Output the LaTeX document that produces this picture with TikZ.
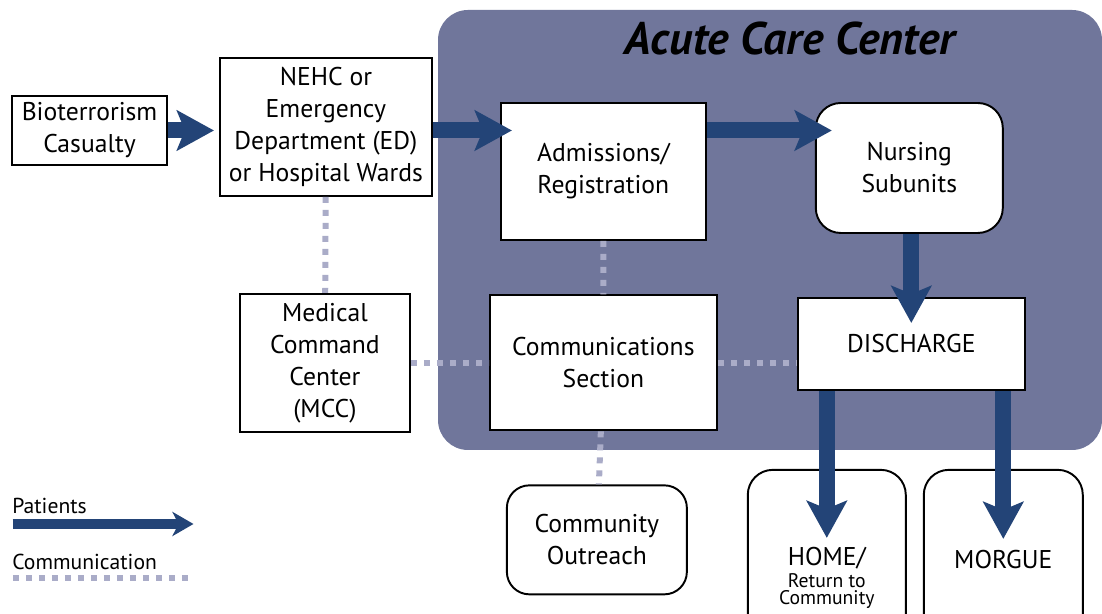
\documentclass[tikz,border=0pt]{standalone}
\usepackage{fontspec}
\setmainfont{PT Sans}
\usepackage{xcolor}
\usepackage{tikz}
\usetikzlibrary{arrows.meta}
\usetikzlibrary{positioning}
\usetikzlibrary{calc}
\definecolor{accbg}{HTML}{70769B}
\definecolor{flowblue}{HTML}{234477}
\definecolor{commgray}{HTML}{AAACC8}
\tikzstyle{unit} = [rectangle,fill=white,draw=black,line width=1.1pt,align=center,
inner sep=2pt, font=\fontsize{14.6}{18.2}\selectfont]
\tikzstyle{roundunit} = [unit, rounded corners=0.5cm]
\tikzstyle{patient} = [draw=flowblue, line width=0.32cm,
-{Stealth[length=0.74cm, width=0.8cm, inset=0.16cm]}]
\tikzstyle{patientkey} = [draw=flowblue, line width=0.2cm,
-{Stealth[length=0.42cm, width=0.48cm, inset=0.12cm]}]
\tikzstyle{commlink} = [draw=commgray, line width=0.12cm, dash pattern=on 0.12cm off 0.14cm]
\tikzstyle{keytext} = [inner sep=0pt, font=\fontsize{12.3}{14}\selectfont]
\newcommand{\cedge}[2]{ %
  % Link all nodes #1 to all nodes #2.
  \foreach \src in {#1} { %
    \foreach \dst in {#2} { %
      \path (\src) edge [commlink] (\dst) ;%
    } ;
  } ;
}

\begin{document}
\begin{tikzpicture}
  \useasboundingbox (0,0) rectangle (22.04,12.28);
  % acute care center
  \fill[accbg, rounded corners=0.6cm] (8.76,3.28) rectangle (22.04,12.08);
  \node[font=\fontsize{26}{26}\selectfont\bfseries\itshape] (acc) at (15.8,11.5) {Acute Care Center};
  % entry
  \node[unit, minimum width=3.1cm, minimum height=1.38cm] (bio) at (1.79,9.67) {Bioterrorism\\Casualty};
  \node[unit, minimum width=4.24cm, minimum height=2.76cm, right = 1.02cm of bio, yshift = 0.07cm]
    (nehc) {NEHC or\\Emergency\\Department (ED)\\or Hospital Wards};
  % inside center
  \node[unit, minimum width=4.1cm, minimum height=2.74cm, right = 1.34cm of nehc, yshift = -0.89cm]
    (adm) {Admissions/\\Registration};
  \node[roundunit, minimum width=3.74cm, minimum height=2.6cm, right = 2.16cm of adm, yshift = 0.07cm]
    (nurse) {Nursing\\Subunits};
  \node[unit, minimum width=4.54cm, minimum height=1.84cm, below = 1.26cm of nurse, xshift = 0.04cm]
    (dis) {DISCHARGE};
  % command
  \node[unit, minimum width=3.4cm, minimum height=2.76cm, below = 1.92cm of nehc, xshift = -0.02cm]
    (mcc) {Medical\\Command\\Center\\(MCC)};
  \node[unit, minimum width=4.54cm, minimum height=2.7cm, right = 1.56cm of mcc]
    (cs) {Communications\\Section};
  \node[roundunit, rounded corners=0.45cm, minimum width=3.6cm, minimum height=2.18cm,
    below = 1.06cm of cs, xshift = -0.13cm] (out) {Community\\Outreach};
  % outcomes
  \node[roundunit, minimum width=3.16cm, minimum height=4.32cm, below = 1.56cm of dis, xshift = -1.69cm]
    (home) {HOME/\\[-5.5pt]{\fontsize{11.2}{12}\selectfont Return to}\\[-8.2pt]{\fontsize{11.2}{12}\selectfont Community}};
  \node[roundunit, minimum width=3.18cm, minimum height=3.6cm, below = 1.56cm of dis, xshift = 1.84cm]
    (morgue) {MORGUE};
  % legend
  \node[keytext, anchor=base west] (kpat) at (0.24,2.0) {Patients};
  \node[keytext, anchor=base west] (kcomm) at (0.24,0.88) {Communication};
  \coordinate (kp0) at (0.25,1.8);
  \coordinate (kp1) at (3.87,1.8);
  \coordinate (kc0) at (0.26,0.72);
  \coordinate (kc1) at (3.8,0.72);

  % communication
  \cedge {nehc} {mcc}
  \cedge {mcc} {cs}
  \cedge {adm} {cs}
  \cedge {cs} {cs -| dis.west}
  \cedge {cs} {out}
  \path (kc0) edge [commlink] (kc1);
  % patients
  \draw[patient, shorten >= 0.1cm] (bio.east) -- (nehc.west |- bio.east);
  \draw[patient, shorten >= -0.24cm] (nehc.east |- bio) -- (adm.west |- bio);
  \draw[patient, shorten >= -0.34cm] (adm.east |- bio) -- (nurse.west |- bio);
  \draw[patient, shorten >= -0.52cm] (nurse.south -| dis) -- (dis.north);
  \draw[patient, shorten >= -1.38cm] (dis.south -| home) -- (home.north);
  \draw[patient, shorten >= -1.4cm, xshift=-0.1cm] (dis.south -| morgue) -- (morgue.north);
  \draw[patientkey] (kp0) -- (kp1);
\end{tikzpicture}
\end{document}
